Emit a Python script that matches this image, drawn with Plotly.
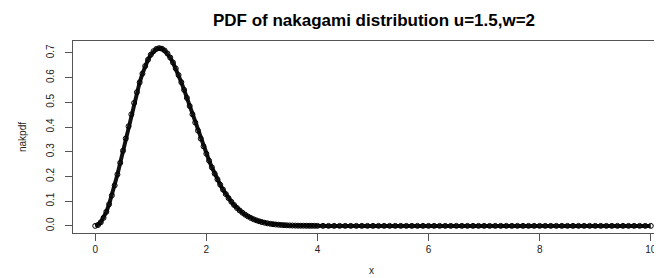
import plotly.graph_objects as go

# x grid of the plotted points and Nakagami pdf values
x_vals = [0.00, 0.05, 0.10, 0.15, 0.20, 0.25, 0.30, 0.35, 0.40, 0.45,
          0.50, 0.55, 0.60, 0.65, 0.70, 0.75, 0.80, 0.85, 0.90, 0.95,
          1.00, 1.05, 1.10, 1.15, 1.20, 1.25, 1.30, 1.35, 1.40, 1.45,
          1.50, 1.55, 1.60, 1.65, 1.70, 1.75, 1.80, 1.85, 1.90, 1.95,
          2.00, 2.05, 2.10, 2.15, 2.20, 2.25, 2.30, 2.35, 2.40, 2.45,
          2.50, 2.55, 2.60, 2.65, 2.70, 2.75, 2.80, 2.85, 2.90, 2.95,
          3.00, 3.05, 3.10, 3.15, 3.20, 3.25, 3.30, 3.35, 3.40, 3.45,
          3.50, 3.55, 3.60, 3.65, 3.70, 3.75, 3.80, 3.85, 3.90, 3.95,
          4.00, 4.1, 4.2, 4.3, 4.4, 4.5, 4.6, 4.7, 4.8, 4.9,
          5.0, 5.1, 5.2, 5.3, 5.4, 5.5, 5.6, 5.7, 5.8, 5.9,
          6.0, 6.1, 6.2, 6.3, 6.4, 6.5, 6.6, 6.7, 6.8, 6.9,
          7.0, 7.1, 7.2, 7.3, 7.4, 7.5, 7.6, 7.7, 7.8, 7.9,
          8.0, 8.1, 8.2, 8.3, 8.4, 8.5, 8.6, 8.7, 8.8, 8.9,
          9.0, 9.1, 9.2, 9.3, 9.4, 9.5, 9.6, 9.7, 9.8, 9.9, 10.0]

nakpdf = [0.0000, 0.0037, 0.0145, 0.0324, 0.0569, 0.0874, 0.1233, 0.1638, 0.2080, 0.2550,
          0.3038, 0.3534, 0.4028, 0.4511, 0.4974, 0.5407, 0.5805, 0.6160, 0.6468, 0.6723,
          0.6924, 0.7069, 0.7157, 0.7190, 0.7168, 0.7095, 0.6975, 0.6810, 0.6606, 0.6368,
          0.6101, 0.5810, 0.5502, 0.5179, 0.4849, 0.4515, 0.4181, 0.3852, 0.3529, 0.3217,
          0.2919, 0.2635, 0.2367, 0.2115, 0.1881, 0.1665, 0.1467, 0.1286, 0.1123, 0.0975,
          0.0843, 0.0726, 0.0623, 0.0531, 0.0451, 0.0382, 0.0321, 0.0269, 0.0225, 0.0187,
          0.0154, 0.0127, 0.0104, 0.0085, 0.0069, 0.0056, 0.0045, 0.0036, 0.0029, 0.0023,
          0.0018, 0.0014, 0.0011, 0.0009, 0.0007, 0.0006, 0.0004, 0.0003, 0.0003, 0.0002,
          0.0001, 0.0001, 0.0000, 0.0000, 0.0000, 0.0000, 0.0000, 0.0000, 0.0000, 0.0000,
          0.0, 0.0, 0.0, 0.0, 0.0, 0.0, 0.0, 0.0, 0.0, 0.0,
          0.0, 0.0, 0.0, 0.0, 0.0, 0.0, 0.0, 0.0, 0.0, 0.0,
          0.0, 0.0, 0.0, 0.0, 0.0, 0.0, 0.0, 0.0, 0.0, 0.0,
          0.0, 0.0, 0.0, 0.0, 0.0, 0.0, 0.0, 0.0, 0.0, 0.0,
          0.0, 0.0, 0.0, 0.0, 0.0, 0.0, 0.0, 0.0, 0.0, 0.0, 0.0]

x_ticks = [0, 2, 4, 6, 8, 10]
y_ticks = [0.0, 0.1, 0.2, 0.3, 0.4, 0.5, 0.6, 0.7]
y_tick_text = ["0.0", "0.1", "0.2", "0.3", "0.4", "0.5", "0.6", "0.7"]

title_text = "PDF of nakagami distribution u=1.5,w=2"
x_label = "x"
y_label = "nakpdf"

FONT = "Liberation Sans, Arial, sans-serif"

fig = go.Figure()
fig.add_trace(go.Scatter(
    x=x_vals, y=nakpdf, mode="lines",
    line=dict(color="#111111", width=4),
    hoverinfo="skip", showlegend=False,
))
fig.add_trace(go.Scatter(
    x=x_vals, y=nakpdf, mode="markers",
    marker=dict(symbol="circle-open", size=5, color="#000000",
                line=dict(width=1, color="#000000")),
    showlegend=False,
))

fig.update_layout(
    width=662, height=278,
    margin=dict(l=65, r=0, t=33, b=53),
    paper_bgcolor="white", plot_bgcolor="white",
    font=dict(family=FONT, size=10, color="#222222"),
    title=dict(text="<b>" + title_text + "</b>", x=366 / 662, xref="container",
               xanchor="center", y=1 - 12 / 278, yref="container", yanchor="middle",
               font=dict(family=FONT, size=17, color="#000000")),
)
fig.update_xaxes(
    range=[-0.4, 10.346], tickmode="array", tickvals=x_ticks,
    ticks="outside", ticklen=7, tickcolor="#555555", tickwidth=1,
    showline=True, linecolor="#555555", linewidth=1, mirror=True,
    showgrid=False, zeroline=False,
    tickfont=dict(size=10, color="#222222"),
    title=dict(text=x_label, standoff=12, font=dict(size=10, color="#222222")),
)
fig.update_yaxes(
    range=[-0.0288, 0.748], tickmode="array", tickvals=y_ticks, ticktext=y_tick_text,
    ticks="outside", ticklen=7, tickcolor="#555555", tickwidth=1,
    showline=True, linecolor="#555555", linewidth=1, mirror=False,
    showgrid=False, zeroline=False, tickangle=-90, ticklabelstandoff=7,
    tickfont=dict(size=10, color="#222222"),
    title=dict(text=y_label, standoff=16, font=dict(size=10, color="#222222")),
)

fig.write_html("out.html")
